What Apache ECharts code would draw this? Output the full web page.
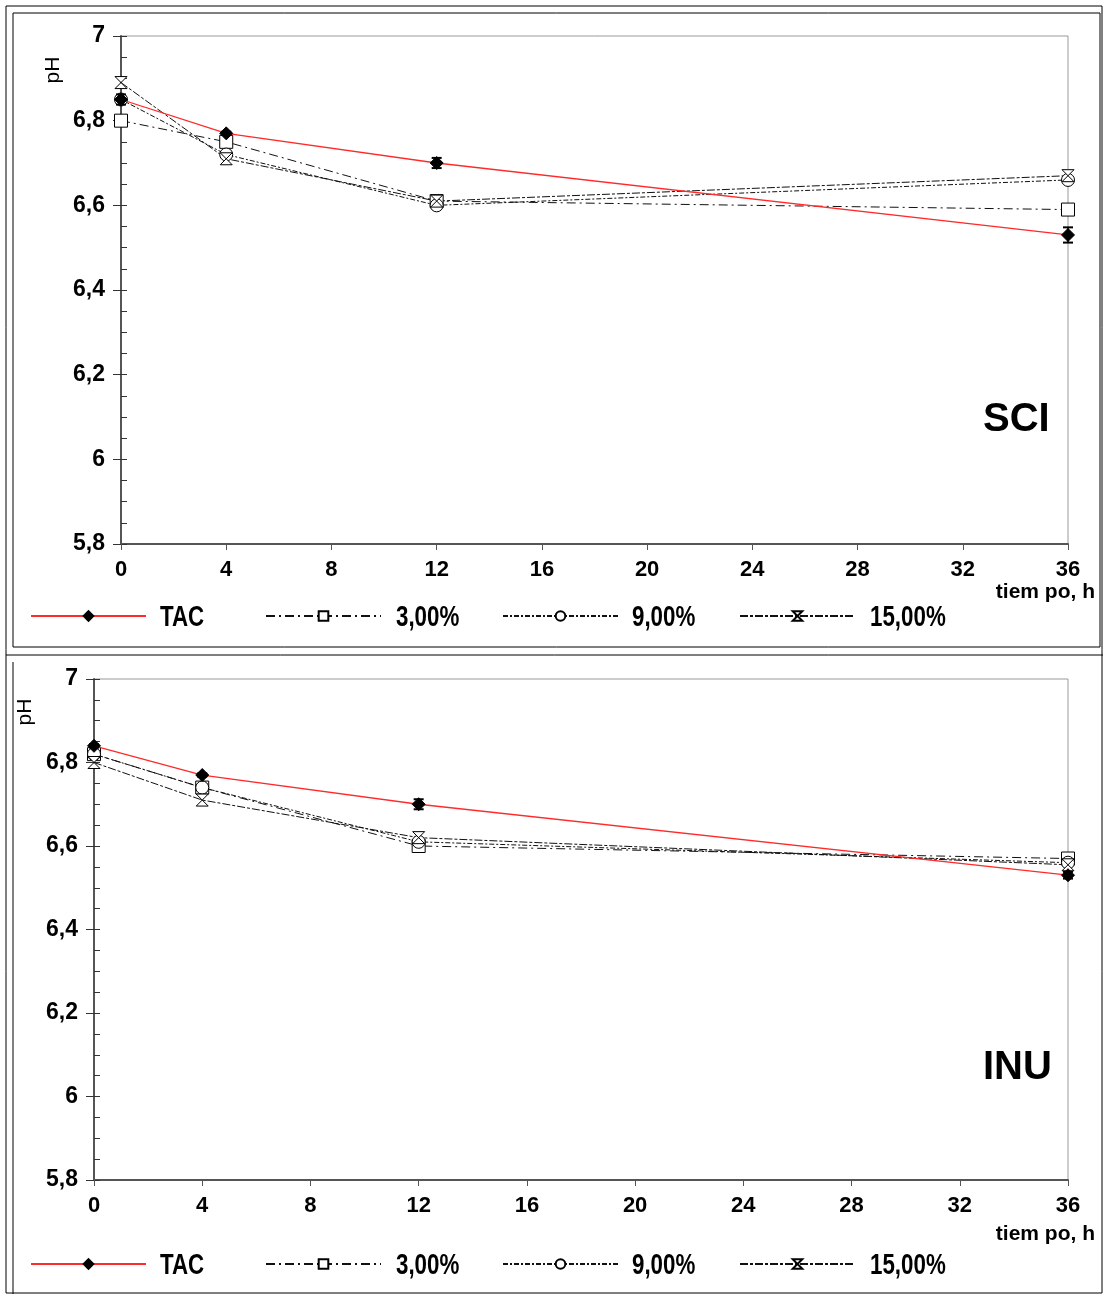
<!DOCTYPE html>
<html>
<head>
<meta charset="utf-8">
<script src="https://cdn.jsdelivr.net/npm/echarts@6/dist/echarts.min.js"></script>
<style>
  html, body { margin: 0; padding: 0; background: #fff; }
  #chart { width: 1103px; height: 1294px; }
</style>
</head>
<body>
<div id="chart"></div>
<script>
// Sampling times (h)
const hours = [0, 4, 12, 36];
const xTicks = [0, 4, 8, 12, 16, 20, 24, 28, 32, 36];
const seriesNames = ['TAC', '3,00%', '9,00%', '15,00%'];

// pH values, SCI panel
const sciTAC = [6.85, 6.77, 6.70, 6.53];
const sci3 = [6.80, 6.75, 6.61, 6.59];
const sci9 = [6.85, 6.72, 6.60, 6.66];
const sci15 = [6.89, 6.71, 6.61, 6.67];
const sciTACErr = [0.012, 0.004, 0.012, 0.018];

// pH values, INU panel
const inuTAC = [6.84, 6.77, 6.70, 6.53];
const inu3 = [6.82, 6.74, 6.60, 6.57];
const inu9 = [6.82, 6.74, 6.61, 6.56];
const inu15 = [6.80, 6.71, 6.62, 6.555];
const inuTACErr = [0.004, 0.004, 0.012, 0.008];

const hourglass = 'path://M0,0L10,0L0,10L10,10Z';
const styles = [
  { color: '#ff2a2a', type: 'solid', symbol: 'diamond', size: 13, fill: '#000', border: '#000', width: 1.3 },
  { color: '#111', type: [9, 4, 2, 4], symbol: 'rect', size: 13, fill: '#fff', border: '#000', width: 1 },
  { color: '#111', type: [5, 2, 2, 2], symbol: 'circle', size: 13, fill: '#fff', border: '#000', width: 1 },
  { color: '#111', type: [8, 2, 3, 2], symbol: hourglass, size: 12, fill: '#fff', border: '#000', width: 1 }
];

const panels = [
  { data: [sciTAC, sci3, sci9, sci15], err: sciTACErr, left: 121, top: 36, height: 508, label: 'SCI',
    legendY: 616, labelY: 420, nameY: 594, phX: 53, phY: 70 },
  { data: [inuTAC, inu3, inu9, inu15], err: inuTACErr, left: 94, top: 679, height: 501, label: 'INU',
    legendY: 1264, labelY: 1068, nameY: 1236, phX: 25, phY: 712 }
];

const legendLeft = [30, 265, 502, 739];
const legendTextLeft = [160, 396, 632, 870];
const FONT = 'Liberation Sans, Arial, sans-serif';

const grid = [], xAxis = [], yAxis = [], series = [], legend = [], graphic = [];

panels.forEach((p, pi) => {
  grid.push({ left: p.left, top: p.top, right: 35, height: p.height, show: true, borderColor: '#999', borderWidth: 1, backgroundColor: '#fff' });
  xAxis.push({
    type: 'value', gridIndex: pi, min: 0, max: 36, interval: 4,
    axisLine: { show: true, onZero: false, lineStyle: { color: '#555', width: 2 } },
    axisTick: { show: true, length: 6, lineStyle: { color: '#555' } },
    splitLine: { show: false },
    axisLabel: { color: '#000', fontWeight: 'bold', fontSize: 22, fontFamily: FONT, margin: 15,
      formatter: v => xTicks.includes(v) ? String(v) : '' }
  });
  // main value axis with outward major ticks
  yAxis.push({
    type: 'value', gridIndex: pi, min: 5.8, max: 7, interval: 0.2,
    axisLine: { show: true, lineStyle: { color: '#555', width: 2 } },
    axisTick: { show: true, length: 8, lineStyle: { color: '#333' } },
    splitLine: { show: false },
    axisLabel: { color: '#000', fontWeight: 'bold', fontSize: 23, fontFamily: FONT, margin: 16,
      formatter: v => { const r = Math.round(v * 10) / 10; return (Number.isInteger(r) ? String(r) : r.toFixed(1)).replace('.', ','); } }
  });
  // inner minor ticks
  yAxis.push({
    type: 'value', gridIndex: pi, min: 5.8, max: 7, interval: 0.05, position: 'left',
    axisLine: { show: false }, axisLabel: { show: false }, splitLine: { show: false },
    axisTick: { show: true, inside: true, length: 6, lineStyle: { color: '#333' } }
  });

  styles.forEach((s, si) => {
    const vals = p.data[si];
    series.push({
      name: seriesNames[si], type: 'line', xAxisIndex: pi, yAxisIndex: pi * 2,
      data: hours.map((h, i) => [h, vals[i]]),
      symbol: s.symbol, symbolSize: s.size, showSymbol: true,
      lineStyle: { color: s.color, type: s.type, width: s.width },
      itemStyle: { color: s.fill, borderColor: s.border, borderWidth: 1 },
      z: si === 0 ? 5 : 4, animation: false
    });
  });

  // error bars on TAC
  series.push({
    type: 'custom', xAxisIndex: pi, yAxisIndex: pi * 2, z: 6, animation: false,
    data: hours.map((h, i) => [h, p.data[0][i], p.err[i]]),
    renderItem: (params, api) => {
      const x = api.value(0), y = api.value(1), e = api.value(2);
      const lo = api.coord([x, y - e]), hi = api.coord([x, y + e]);
      return { type: 'group', children: [
        { type: 'line', shape: { x1: lo[0], y1: lo[1], x2: hi[0], y2: hi[1] }, style: { stroke: '#000', lineWidth: 1.5 } },
        { type: 'line', shape: { x1: lo[0] - 5, y1: lo[1], x2: lo[0] + 5, y2: lo[1] }, style: { stroke: '#000', lineWidth: 2 } },
        { type: 'line', shape: { x1: hi[0] - 5, y1: hi[1], x2: hi[0] + 5, y2: hi[1] }, style: { stroke: '#000', lineWidth: 2 } }
      ] };
    }
  });

  seriesNames.forEach((n, si) => {
    legend.push({
      data: [n], left: legendLeft[si], top: p.legendY - 6, itemWidth: 115, itemHeight: 12,
      selectedMode: false, padding: 0, formatter: () => '',
      textStyle: { fontSize: 1 }
    });
    // condensed bold legend caption
    graphic.push({
      type: 'text', x: legendTextLeft[si], y: p.legendY + 2, scaleX: 0.77,
      style: { text: n, x: 0, y: 0, textAlign: 'left', textVerticalAlign: 'middle',
        fontSize: 29, fontWeight: 'bold', fontFamily: FONT, fill: '#000' }
    });
  });

  graphic.push({
    type: 'text', left: 983, top: p.labelY - 20,
    style: { text: p.label, fontSize: 40, fontWeight: 900, fontFamily: FONT, fill: '#000' }
  });
  graphic.push({
    type: 'text', right: 8, top: p.nameY - 12,
    style: { text: 'tiem po, h', fontSize: 21, fontWeight: 'bold', fontFamily: FONT, fill: '#000' }
  });
  graphic.push({
    type: 'text', x: p.phX, y: p.phY, rotation: Math.PI / 2,
    style: { text: 'pH', x: 0, y: 0, textAlign: 'center', textVerticalAlign: 'middle',
      fontSize: 21, fontFamily: FONT, fill: '#000' }
  });
});

// panel frames
graphic.push(
  { type: 'rect', shape: { x: 6, y: 6, width: 1096, height: 1287 }, style: { fill: 'none', stroke: '#000', lineWidth: 1 }, z: -1 },
  { type: 'rect', shape: { x: 13, y: 13, width: 1087, height: 634 }, style: { fill: 'none', stroke: '#000', lineWidth: 1 }, z: -1 },
  { type: 'line', shape: { x1: 6, y1: 655, x2: 1103, y2: 655 }, style: { stroke: '#000', lineWidth: 1 }, z: -1 },
  { type: 'line', shape: { x1: 13, y1: 662, x2: 13, y2: 1294 }, style: { stroke: '#000', lineWidth: 1 }, z: -1 }
);

const chart = echarts.init(document.getElementById('chart'), null, { renderer: 'canvas' });
chart.setOption({ animation: false, backgroundColor: '#fff', grid, xAxis, yAxis, series, legend, graphic });
</script>
</body>
</html>
